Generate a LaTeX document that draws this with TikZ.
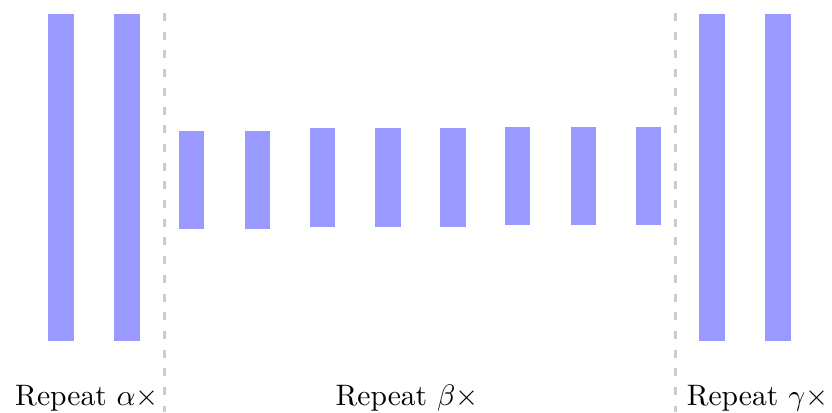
\documentclass[tikz,border=0pt]{standalone}
\begin{document}
\begin{tikzpicture}[x=1bp,y=-1bp,
  bar/.style={fill=barblue,draw=none},
  sep/.style={draw=sepgrey,line width=2.6bp,dash pattern=on 8bp off 10.7bp},
  lbl/.style={anchor=base,inner sep=0pt}]
\definecolor{barblue}{HTML}{9999FF}
\definecolor{sepgrey}{HTML}{CCCCCC}
\useasboundingbox (0,0) rectangle (832,412);
% tall bars left
\fill[bar] (48,14) rectangle (74,341);
\fill[bar] (114,14) rectangle (140,341);
% tall bars right
\fill[bar] (699,14) rectangle (725,341);
\fill[bar] (765,14) rectangle (791,341);
% short bars
\fill[bar] (178.5,131) rectangle (204,229);
\fill[bar] (244.5,131) rectangle (270,229);
\fill[bar] (309.5,128.3) rectangle (335,226.7);
\fill[bar] (375,128.3) rectangle (400.5,226.7);
\fill[bar] (440,128.3) rectangle (465.5,226.7);
\fill[bar] (505,127.3) rectangle (530,225.3);
\fill[bar] (570.5,127.3) rectangle (596,225.3);
\fill[bar] (635.5,127.3) rectangle (661,225.3);
% separators
\coordinate (s1t) at (164.5,13);
\coordinate (s1b) at (164.5,412);
\coordinate (s2t) at (675.5,13);
\coordinate (s2b) at (675.5,412);
\draw[sep] (s1t) -- (s1b);
\draw[sep] (s2t) -- (s2b);
% labels
\node[lbl] (la) at (87,405) {\scalebox{2.97}{Repeat $\alpha\times$}};
\node[lbl] (lb) at (407,405) {\scalebox{2.97}{Repeat $\beta\times$}};
\node[lbl] (lc) at (757.5,405) {\scalebox{2.97}{Repeat $\gamma\times$}};
\end{tikzpicture}
\end{document}
